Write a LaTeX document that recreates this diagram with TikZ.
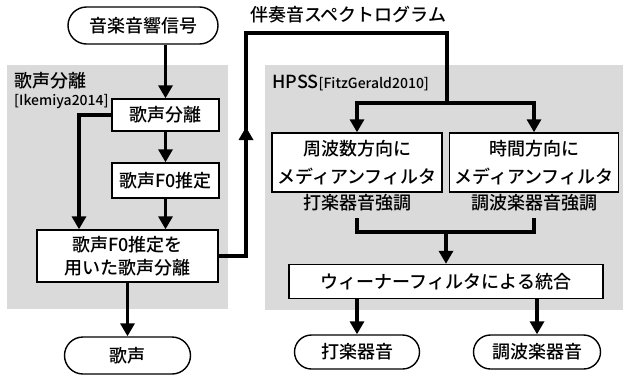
\documentclass[tikz,border=0pt]{standalone}
\usepackage{fontspec}
\setmainfont{Noto Sans CJK JP}[UprightFont={* Medium}]
\usetikzlibrary{arrows.meta,shapes.misc,calc}
\definecolor{panel}{RGB}{218,218,218}
\tikzset{
  x=1pt,y=-1pt,
  panelbg/.style={fill=panel,draw=none},
  procbox/.style={draw=black,line width=1.4pt,fill=white,inner sep=0pt,align=center,font=\fontsize{18}{23}\selectfont},
  term/.style={draw=black,line width=1.4pt,fill=white,rounded rectangle,inner sep=0pt,font=\fontsize{18}{23}\selectfont},
  wire/.style={line width=3.8pt,line join=miter},
  arr/.style={wire,-{Triangle[length=13pt,width=14pt]}},
  plain/.style={inner sep=0pt,font=\fontsize{18}{23}\selectfont},
  small/.style={inner sep=0pt,font=\fontsize{14}{16}\selectfont},
}
\begin{document}
\begin{tikzpicture}
\useasboundingbox (0,0) rectangle (623,378);
% panels
\fill[panel] (7,65) rectangle (228,309);
\fill[panel] (265,65) rectangle (623,310);
\node[plain,anchor=west] (t1) at (14,81) {歌声分離};
\node[small,anchor=west] (t1b) at (14,102) {[Ikemiya2014]};
\node[plain,anchor=base west] (t2) at (272,88) {HPSS{\fontsize{14}{16}\selectfont[FitzGerald2010]}};
% nodes
\node[term,minimum width=150pt,minimum height=37pt] (sig) at (143,25.5) {音楽音響信号};
\node[procbox,minimum width=107pt,minimum height=32pt] (sep1) at (165.5,115) {歌声分離};
\node[procbox,minimum width=107pt,minimum height=35pt] (f0) at (165.5,180.5) {歌声F0推定};
\node[procbox,minimum width=181pt,minimum height=52pt] (sep2) at (127.5,256) {歌声F0推定を\\用いた歌声分離};
\node[term,minimum width=126pt,minimum height=37pt] (voice) at (127.5,355.5) {歌声};
\node[plain,anchor=west] (acc) at (250,15) {伴奏音スペクトログラム};
\node[procbox,font=\fontsize{18}{28}\selectfont,minimum width=170pt,minimum height=59pt] (freq) at (357,162.5) {周波数方向に\\メディアンフィルタ};
\node[procbox,font=\fontsize{18}{28}\selectfont,minimum width=169pt,minimum height=59pt] (time) at (534,162.5) {時間方向に\\メディアンフィルタ};
\node[plain] (pl) at (357,203) {打楽器音強調};
\node[plain] (hl) at (534,203) {調波楽器音強調};
\node[procbox,minimum width=314pt,minimum height=34pt] (wien) at (446,281.5) {ウィーナーフィルタによる統合};
\node[term,minimum width=125pt,minimum height=34pt] (perc) at (357,352) {打楽器音};
\node[term,minimum width=127pt,minimum height=34pt] (harm) at (537,352) {調波楽器音};
% coordinates
\coordinate (up1) at (246,127);
\coordinate (top) at (447,33);
\coordinate (split) at (447,103);
\coordinate (m1) at (357,218);
\coordinate (m2) at (534,218);
\coordinate (mj) at (446,232);
% connectors
\draw[arr] (sig.south -| sep1.north) -- (sep1.north);
\draw[arr] (sep1.south) -- (f0.north);
\draw[arr] (f0.south -| sep1.south) -- (sep2.north -| f0.south);
\draw[arr] (sep1.west) -| ([xshift=-48.5pt]sep2.north);
\draw[arr] (sep2.south) -- (voice.north);
\draw[wire] (sep2.east) -| (up1);
\draw[arr] (sep2.east -| up1) ++(0,-2) -- (up1);
\draw[wire] (up1) |- (top) -- (split);
\draw[arr] (split) -| (freq.north);
\draw[arr] (split) -| (time.north);
\draw[wire] (m1) |- (mj) -| (m2);
\draw[arr] (mj) -- (wien.north);
\draw[arr] (wien.south -| perc.north) -- (perc.north);
\draw[arr] (wien.south -| harm.north) -- (harm.north);
\end{tikzpicture}
\end{document}
